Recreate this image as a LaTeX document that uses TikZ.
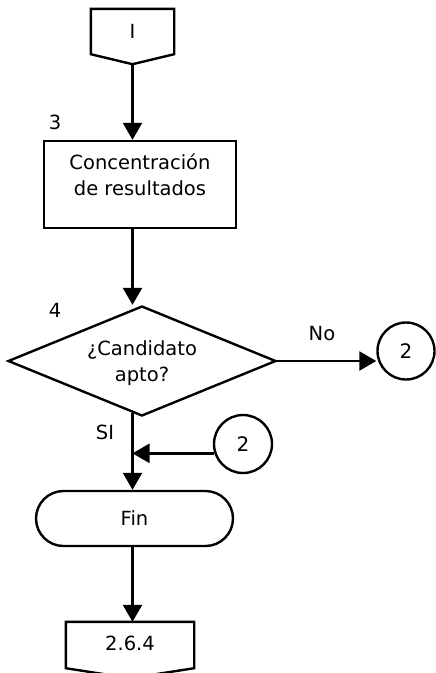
\documentclass[tikz,border=0pt]{standalone}
\usepackage{fontspec}
\setmainfont{DejaVu Sans}
\usetikzlibrary{arrows.meta,shapes.geometric,calc}
\begin{document}
\begin{tikzpicture}[x=1pt,y=-1pt,
  line width=2.4pt,
  flow/.style={-{Triangle[length=17pt,width=19pt]}},
  box/.style={draw, rectangle, inner sep=0pt},
  conn/.style={draw, circle, inner sep=0pt, minimum size=57pt, font=\fontsize{20}{22}\selectfont},
  lbl/.style={font=\fontsize{19.5}{26}\selectfont, inner sep=0pt},
  page/.style={rectangle, inner sep=0pt},
]
\useasboundingbox[fill=white] (0,0) rectangle (436,673);

% off-page connector at the top
\node[page, minimum width=81pt, minimum height=43pt] (top) at (132.5,31.5) {};
\draw (top.north west) -- (top.north east) -- (top.south east)
  -- ($(top.south)+(0,10)$) coordinate (toptip) -- (top.south west) -- cycle;
\node[lbl] (toplbl) at (top.center) {I};

% step 3: process box
\node[lbl] (n3) at (55,122) {3};
\node[box, minimum width=192pt, minimum height=87pt] (rect) at (140,184.5) {};
\node[lbl, align=center] (recttxt) at (140,175) {Concentración\\de resultados};

% step 4: decision
\node[lbl] (n4) at (55,310) {4};
\node[draw, diamond, minimum width=268pt, minimum height=110pt, inner sep=0pt] (dia) at (142,361) {};
\node[lbl, align=center] (diatxt) at (142,363.5) {¿Candidato\\apto?};

% connectors labelled 2
\node[conn] (c2r) at (406,351) {2};
\node[conn, minimum size=58pt] (c2b) at (243,444) {2};

% terminator
\node[draw, rounded corners=27.5pt, minimum width=197pt, minimum height=55pt, lbl] (fin) at (134.5,518.5) {Fin};

% off-page connector at the bottom
\node[page, minimum width=126pt, minimum height=44pt] (bot) at (130,645) {};
\draw (bot.north west) -- (bot.north east) -- (bot.south east)
  -- ($(bot.south)+(0,10)$) -- (bot.south west) -- cycle;
\node[lbl] (botlbl) at (130,643) {2.6.4};

% branch labels
\node[lbl] (no) at (322,334) {No};
\node[lbl] (si) at (105,432) {SI};

% flow lines
\draw[flow] (toptip) -- (toptip |- rect.north);
\draw[flow] (rect.south -| toptip) -- (toptip |- dia.north);
\draw[flow] (dia.east) -- (dia.east -| c2r.west);
\draw[flow] ($(dia.south -| toptip)+(0,-4)$) -- (toptip |- fin.north);
\draw[flow] (c2b.198) -- (c2b.198 -| toptip);
\draw[flow] (fin.south -| toptip) -- (toptip |- bot.north);
\end{tikzpicture}
\end{document}
